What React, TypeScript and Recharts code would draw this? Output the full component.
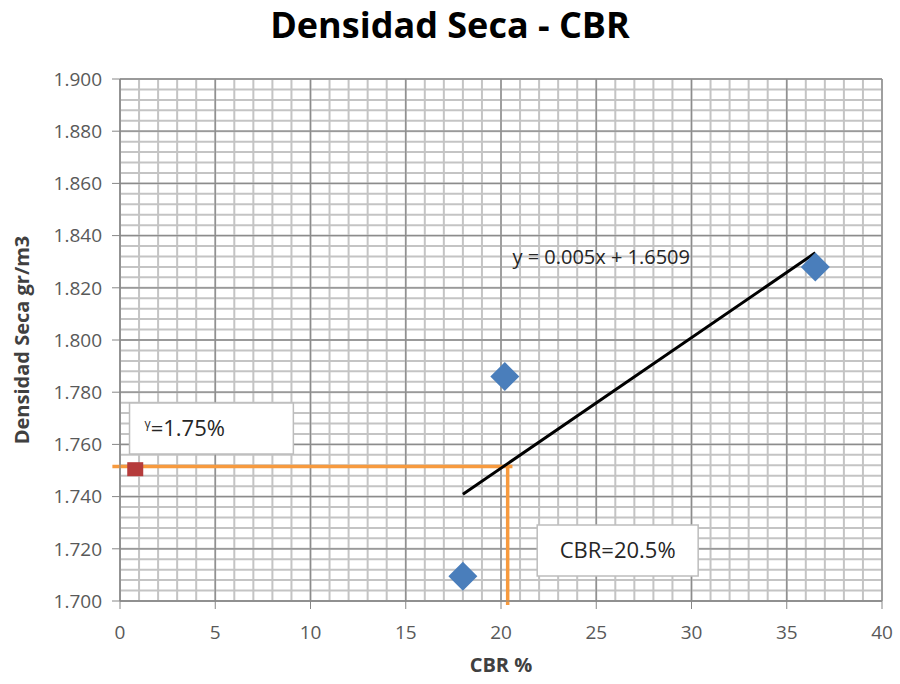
import {
  ScatterChart,
  Scatter,
  XAxis,
  YAxis,
  CartesianGrid,
  ReferenceLine,
  ReferenceArea,
  ReferenceDot,
} from "recharts";

// ensayos: CBR % vs densidad seca
const CBR_VALUES = [18.0, 20.2, 36.5];
const DENSIDAD_VALUES = [1.7095, 1.786, 1.828];

// punto de referencia (densidad buscada)
const REF_POINT = [{ x: 0.8, y: 1.7505 }];
const TARGET_DENSIDAD = 1.7515;
const TARGET_CBR = 20.35;

// línea de tendencia y = 0.005x + 1.6509
const TREND_SLOPE = 0.005;
const TREND_INTERCEPT = 1.6509;
const TREND_LABEL = "y = 0.005x + 1.6509";

const X_DOMAIN = [0, 40];
const Y_DOMAIN = [1.7, 1.9];
const X_TICKS = [0, 5, 10, 15, 20, 25, 30, 35, 40];
const Y_TICKS = [1.7, 1.72, 1.74, 1.76, 1.78, 1.8, 1.82, 1.84, 1.86, 1.88, 1.9];

// subdivisiones de la cuadrícula (cada 1 % y cada 0.004)
const X_MINOR = Array.from({ length: 41 }, (_, i) => i);
const Y_MINOR = Array.from({ length: 51 }, (_, i) => +(1.7 + i * 0.004).toFixed(3));

const points = CBR_VALUES.map((x, i) => ({ x, y: DENSIDAD_VALUES[i] }));
const xMin = Math.min(...CBR_VALUES);
const xMax = Math.max(...CBR_VALUES);
const trend = (x: number) => TREND_SLOPE * x + TREND_INTERCEPT;

const FONT = "'Open Sans', sans-serif";
const AXIS_COLOR = "#868686";
const TICK_STYLE = { fontSize: 19, fill: "#595959", fontFamily: FONT };

function Diamond(props: any) {
  const { cx, cy } = props;
  const r = 14.5;
  return (
    <path
      d={`M${cx},${cy - r} L${cx + r},${cy} L${cx},${cy + r} L${cx - r},${cy} Z`}
      fill="#4a7ebb"
    />
  );
}

function Square(props: any) {
  const { cx, cy } = props;
  return <rect x={cx - 8} y={cy - 7} width={16} height={14} fill="#b53b3b" />;
}

// usa la escala del eje si está disponible
function applyScale(s: any, v: number, fallback: number) {
  let r: any;
  if (typeof s === "function") r = s(v);
  else if (s && typeof s.map === "function") r = s.map(v);
  return typeof r === "number" && isFinite(r) ? r : fallback;
}

const minorX = ({ xAxis, offset }: any) =>
  X_MINOR.map((v) =>
    applyScale(
      xAxis?.scale,
      v,
      offset.left + ((v - X_DOMAIN[0]) / (X_DOMAIN[1] - X_DOMAIN[0])) * offset.width
    )
  );

const minorY = ({ yAxis, offset }: any) =>
  Y_MINOR.map((v) =>
    applyScale(
      yAxis?.scale,
      v,
      offset.top + ((Y_DOMAIN[1] - v) / (Y_DOMAIN[1] - Y_DOMAIN[0])) * offset.height
    )
  );

export default function App() {
  return (
    <div
      style={{
        position: "absolute",
        left: 0,
        top: 0,
        width: 900,
        height: 684,
        background: "#fff",
      }}
    >
      <div
        style={{
          position: "absolute",
          top: 1,
          left: 0,
          width: 900,
          textAlign: "center",
          fontFamily: FONT,
          fontWeight: 700,
          fontSize: 36,
          lineHeight: "48px",
          color: "#000",
        }}
      >
        Densidad Seca - CBR
      </div>
      <ScatterChart
        width={900}
        height={684}
        margin={{ top: 79, right: 18, bottom: 0, left: 0 }}
      >
        <CartesianGrid
          stroke="#c4c4c4"
          strokeWidth={2}
          verticalCoordinatesGenerator={minorX}
          horizontalCoordinatesGenerator={minorY}
        />
        <CartesianGrid stroke="#8c8c8c" strokeWidth={1.3} />
        <XAxis
          type="number"
          dataKey="x"
          domain={X_DOMAIN}
          ticks={X_TICKS}
          height={83}
          tickSize={8}
          tickMargin={17}
          stroke={AXIS_COLOR}
          tick={TICK_STYLE}
          label={(p: any) => {
            const vb = p.viewBox;
            return (
              <text
                x={vb.x + vb.width / 2}
                y={vb.y + 71}
                textAnchor="middle"
                fontFamily={FONT}
                fontWeight={700}
                fontSize={20}
                fill="#404040"
              >
                CBR %
              </text>
            );
          }}
        />
        <YAxis
          type="number"
          dataKey="y"
          domain={Y_DOMAIN}
          ticks={Y_TICKS}
          width={120}
          tickSize={8}
          tickMargin={10}
          stroke={AXIS_COLOR}
          tick={TICK_STYLE}
          tickFormatter={(v: number) => v.toFixed(3)}
          label={(p: any) => {
            const vb = p.viewBox;
            const cx = 29;
            const cy = vb.y + vb.height / 2;
            return (
              <text
                x={cx}
                y={cy}
                textAnchor="middle"
                transform={`rotate(-90 ${cx} ${cy})`}
                fontFamily={FONT}
                fontWeight={700}
                fontSize={20}
                fill="#404040"
              >
                Densidad Seca gr/m3
              </text>
            );
          }}
        />
        <ReferenceArea
          x1={0.5}
          x2={9.1}
          y1={1.7563}
          y2={1.7759}
          fill="#fff"
          fillOpacity={1}
          stroke="#bdbdbd"
          strokeWidth={1.5}
          ifOverflow="visible"
          label={(p: any) => {
            const vb = p.viewBox;
            return (
              <text
                x={vb.x + 15}
                y={vb.y + vb.height / 2 + 8}
                fontFamily={FONT}
                fontSize={22}
                fill="#262626"
              >
                <tspan fontSize={12} dy={-8}>
                  γ
                </tspan>
                <tspan dy={8}>=1.75%</tspan>
              </text>
            );
          }}
        />
        <ReferenceArea
          x1={21.9}
          x2={30.35}
          y1={1.7096}
          y2={1.7291}
          fill="#fff"
          fillOpacity={1}
          stroke="#bdbdbd"
          strokeWidth={1.5}
          ifOverflow="visible"
          label={{
            value: "CBR=20.5%",
            position: "center",
            fontFamily: FONT,
            fontSize: 22,
            fill: "#262626",
          }}
        />
        <ReferenceLine
          segment={[
            { x: -0.4, y: TARGET_DENSIDAD },
            { x: TARGET_CBR + 0.25, y: TARGET_DENSIDAD },
          ]}
          stroke="#f79a3e"
          strokeWidth={3.5}
          ifOverflow="visible"
        />
        <ReferenceLine
          segment={[
            { x: TARGET_CBR, y: TARGET_DENSIDAD },
            { x: TARGET_CBR, y: 1.6985 },
          ]}
          stroke="#f79a3e"
          strokeWidth={3.5}
          ifOverflow="visible"
        />
        <ReferenceLine
          segment={[
            { x: xMin, y: trend(xMin) },
            { x: xMax, y: trend(xMax) },
          ]}
          stroke="#000"
          strokeWidth={3}
        />
        <ReferenceDot
          x={20.6}
          y={1.8318}
          r={0}
          fill="none"
          stroke="none"
          label={(p: any) => {
            const vb = p.viewBox;
            return (
              <text
                x={vb.x}
                y={vb.y + 7}
                fontFamily={FONT}
                fontSize={20}
                fill="#262626"
              >
                {TREND_LABEL}
              </text>
            );
          }}
        />
        <Scatter data={points} shape={<Diamond />} isAnimationActive={false} />
        <Scatter data={REF_POINT} shape={<Square />} isAnimationActive={false} />
      </ScatterChart>
    </div>
  );
}
